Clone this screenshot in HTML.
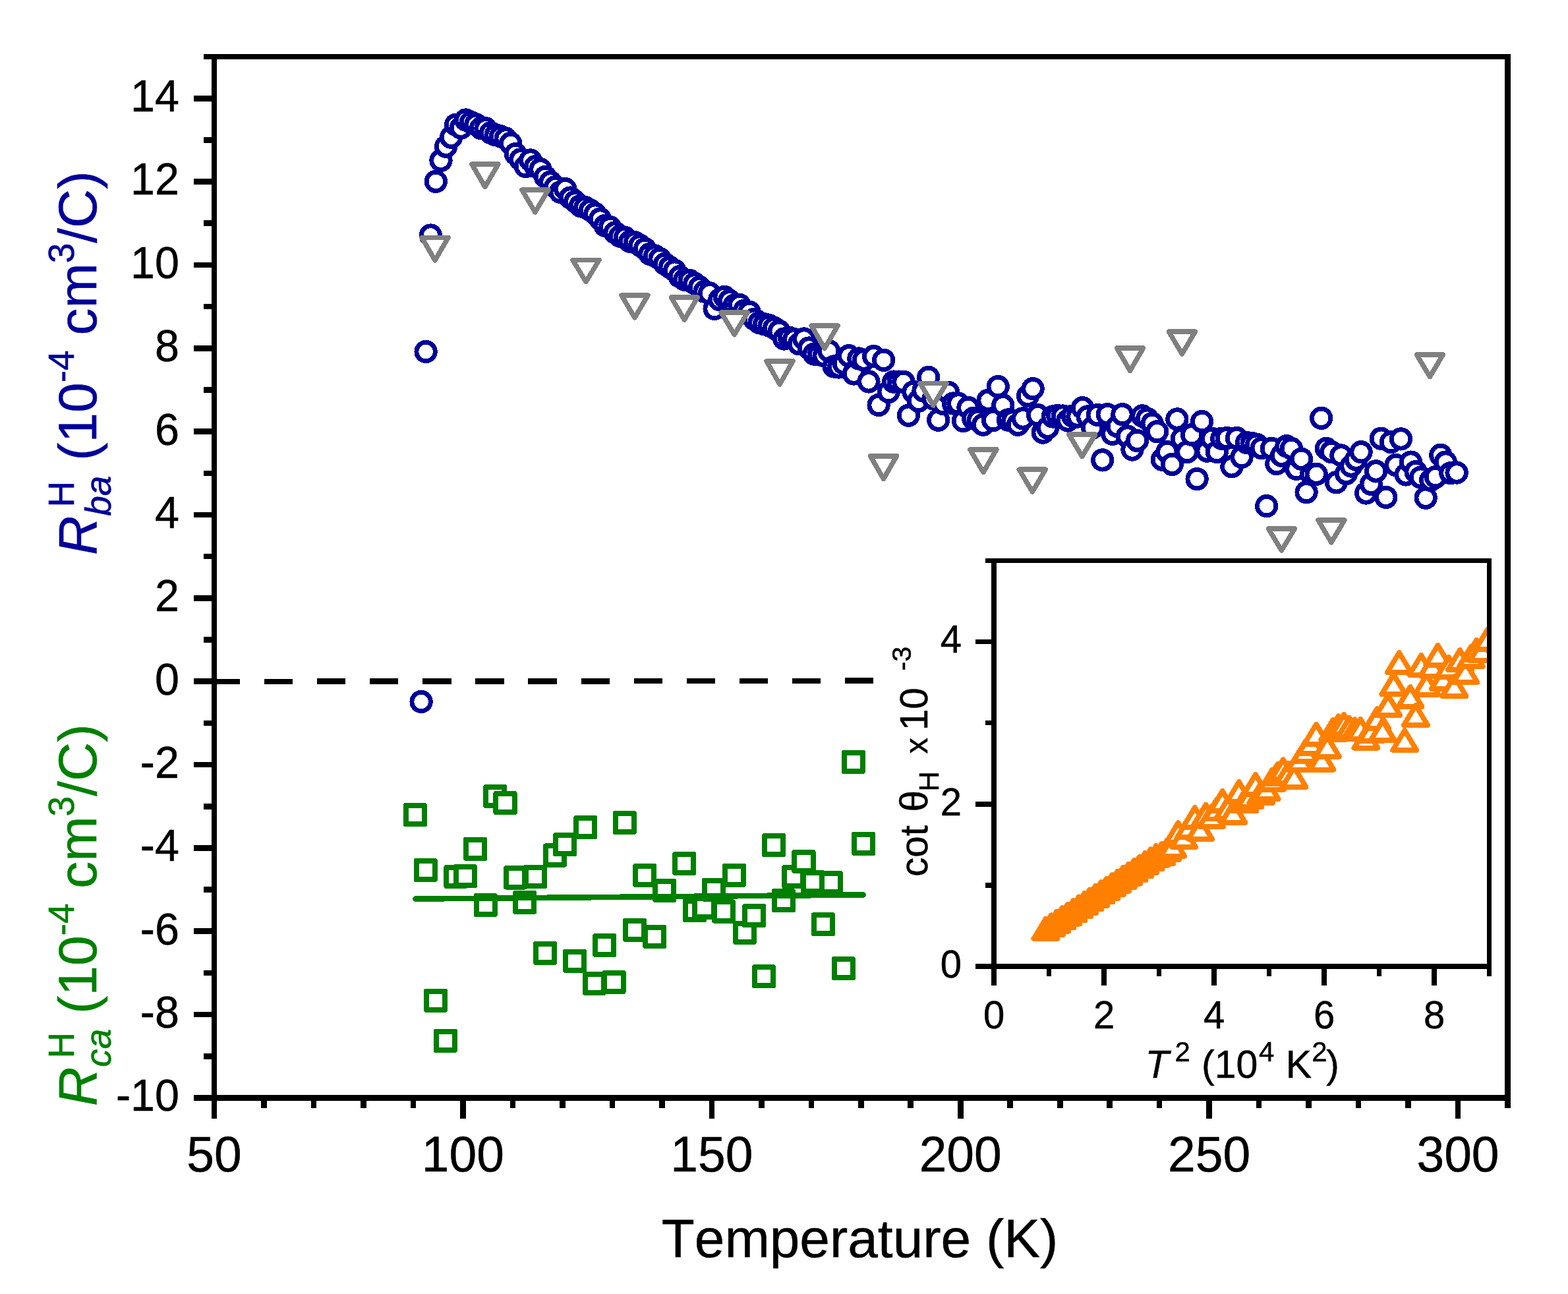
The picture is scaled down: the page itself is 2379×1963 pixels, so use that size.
<!DOCTYPE html>
<html lang="en">
<head>
<meta charset="utf-8">
<title>Hall coefficient vs temperature</title>
<style>
html,body{margin:0;padding:0;background:#fff;}
body{width:2379px;height:1963px;overflow:hidden;}
svg{display:block;}
text{font-family:'Liberation Sans', sans-serif;font-kerning:none;stroke-width:0.5px;paint-order:stroke fill;}
</style>
</head>
<body>
<svg width="2379" height="1963" viewBox="0 0 2379 1963">
<rect x="0" y="0" width="2379" height="1963" fill="#ffffff"/>
<g id="zero-line" shape-rendering="crispEdges">
<line x1="321" y1="1034" x2="1326" y2="1032.7" stroke="#000" stroke-width="8.6" stroke-dasharray="43.2 36.88"/>
</g>
<g id="series-ba" fill="#fff" stroke="#000099" stroke-width="6.9" shape-rendering="crispEdges">
<circle cx="639.1" cy="1064.5" r="14.2"/>
<circle cx="646.1" cy="533.5" r="14.2"/>
<circle cx="653.3" cy="357" r="14.2"/>
<circle cx="661.3" cy="275.3" r="14.2"/>
<circle cx="669" cy="243.3" r="14.2"/>
<circle cx="676.6" cy="222.2" r="14.2"/>
<circle cx="684.5" cy="208.3" r="14.2"/>
<circle cx="691.6" cy="189.2" r="14.2"/>
<circle cx="699.3" cy="194" r="14.2"/>
<circle cx="706.8" cy="182" r="14.2"/>
<circle cx="714.4" cy="185.5" r="14.2"/>
<circle cx="721.9" cy="188.7" r="14.2"/>
<circle cx="729.5" cy="194.4" r="14.2"/>
<circle cx="737" cy="194.9" r="14.2"/>
<circle cx="744.5" cy="201.6" r="14.2"/>
<circle cx="752.1" cy="204.7" r="14.2"/>
<circle cx="759.6" cy="206.8" r="14.2"/>
<circle cx="767.2" cy="210" r="14.2"/>
<circle cx="774.7" cy="217.5" r="14.2"/>
<circle cx="782.3" cy="233.5" r="14.2"/>
<circle cx="789.8" cy="242" r="14.2"/>
<circle cx="797.4" cy="252.5" r="14.2"/>
<circle cx="804.9" cy="243" r="14.2"/>
<circle cx="812.5" cy="252.5" r="14.2"/>
<circle cx="820" cy="256.8" r="14.2"/>
<circle cx="827.5" cy="268.3" r="14.2"/>
<circle cx="835.1" cy="276" r="14.2"/>
<circle cx="842.6" cy="283.7" r="14.2"/>
<circle cx="850.2" cy="291.4" r="14.2"/>
<circle cx="857.7" cy="286.6" r="14.2"/>
<circle cx="865.3" cy="300" r="14.2"/>
<circle cx="872.8" cy="305.8" r="14.2"/>
<circle cx="880.4" cy="312.3" r="14.2"/>
<circle cx="887.9" cy="314.6" r="14.2"/>
<circle cx="895.5" cy="318.8" r="14.2"/>
<circle cx="903" cy="324.2" r="14.2"/>
<circle cx="910.6" cy="332.1" r="14.2"/>
<circle cx="918.1" cy="342.4" r="14.2"/>
<circle cx="925.6" cy="344.5" r="14.2"/>
<circle cx="933.2" cy="352.9" r="14.2"/>
<circle cx="940.7" cy="358.3" r="14.2"/>
<circle cx="948.3" cy="360.5" r="14.2"/>
<circle cx="955.8" cy="366.4" r="14.2"/>
<circle cx="963.4" cy="367.7" r="14.2"/>
<circle cx="970.9" cy="372.1" r="14.2"/>
<circle cx="978.5" cy="377.3" r="14.2"/>
<circle cx="986" cy="385.3" r="14.2"/>
<circle cx="993.6" cy="388" r="14.2"/>
<circle cx="1001.1" cy="392.5" r="14.2"/>
<circle cx="1008.7" cy="400.3" r="14.2"/>
<circle cx="1016.2" cy="405.3" r="14.2"/>
<circle cx="1023.7" cy="410.2" r="14.2"/>
<circle cx="1031.3" cy="419.7" r="14.2"/>
<circle cx="1038.8" cy="424.4" r="14.2"/>
<circle cx="1046.4" cy="425.4" r="14.2"/>
<circle cx="1053.9" cy="430" r="14.2"/>
<circle cx="1061.5" cy="435.6" r="14.2"/>
<circle cx="1069" cy="442.1" r="14.2"/>
<circle cx="1076.6" cy="444.8" r="14.2"/>
<circle cx="1084.1" cy="468.4" r="14.2"/>
<circle cx="1091.7" cy="454.6" r="14.2"/>
<circle cx="1099.2" cy="450.4" r="14.2"/>
<circle cx="1106.8" cy="455.9" r="14.2"/>
<circle cx="1114.3" cy="462.9" r="14.2"/>
<circle cx="1121.8" cy="462.4" r="14.2"/>
<circle cx="1129.4" cy="471.2" r="14.2"/>
<circle cx="1136.9" cy="473.4" r="14.2"/>
<circle cx="1144.5" cy="484.2" r="14.2"/>
<circle cx="1152" cy="489.5" r="14.2"/>
<circle cx="1159.6" cy="491.8" r="14.2"/>
<circle cx="1167.1" cy="493.8" r="14.2"/>
<circle cx="1174.7" cy="497.4" r="14.2"/>
<circle cx="1182.2" cy="502.4" r="14.2"/>
<circle cx="1189.8" cy="514" r="14.2"/>
<circle cx="1197.3" cy="512.1" r="14.2"/>
<circle cx="1204.8" cy="514.5" r="14.2"/>
<circle cx="1212.4" cy="521.8" r="14.2"/>
<circle cx="1219.9" cy="514" r="14.2"/>
<circle cx="1227.5" cy="528" r="14.2"/>
<circle cx="1235" cy="537" r="14.2"/>
<circle cx="1242.6" cy="537.7" r="14.2"/>
<circle cx="1250.1" cy="539.6" r="14.2"/>
<circle cx="1257.7" cy="532.4" r="14.2"/>
<circle cx="1265.2" cy="556" r="14.2"/>
<circle cx="1272.8" cy="557" r="14.2"/>
<circle cx="1280.3" cy="551.5" r="14.2"/>
<circle cx="1287.9" cy="539.8" r="14.2"/>
<circle cx="1295.4" cy="567" r="14.2"/>
<circle cx="1302.9" cy="544" r="14.2"/>
<circle cx="1310.5" cy="546" r="14.2"/>
<circle cx="1318" cy="578.9" r="14.2"/>
<circle cx="1325.6" cy="540.6" r="14.2"/>
<circle cx="1333.1" cy="614.5" r="14.2"/>
<circle cx="1340.7" cy="546.3" r="14.2"/>
<circle cx="1348.2" cy="594.5" r="14.2"/>
<circle cx="1355.8" cy="579.1" r="14.2"/>
<circle cx="1363.3" cy="579.1" r="14.2"/>
<circle cx="1370.9" cy="579.3" r="14.2"/>
<circle cx="1378.4" cy="630.2" r="14.2"/>
<circle cx="1386" cy="594.5" r="14.2"/>
<circle cx="1393.5" cy="608.3" r="14.2"/>
<circle cx="1401" cy="592.8" r="14.2"/>
<circle cx="1408.6" cy="572.4" r="14.2"/>
<circle cx="1416.1" cy="605" r="14.2"/>
<circle cx="1423.7" cy="637.2" r="14.2"/>
<circle cx="1431.2" cy="612.6" r="14.2"/>
<circle cx="1438.8" cy="595.3" r="14.2"/>
<circle cx="1446.3" cy="612" r="14.2"/>
<circle cx="1453.9" cy="612" r="14.2"/>
<circle cx="1461.4" cy="638.5" r="14.2"/>
<circle cx="1469" cy="618.3" r="14.2"/>
<circle cx="1476.5" cy="634.7" r="14.2"/>
<circle cx="1484.1" cy="637.6" r="14.2"/>
<circle cx="1491.6" cy="644.3" r="14.2"/>
<circle cx="1499.1" cy="607.3" r="14.2"/>
<circle cx="1506.7" cy="637.6" r="14.2"/>
<circle cx="1514.2" cy="586.5" r="14.2"/>
<circle cx="1521.8" cy="614.8" r="14.2"/>
<circle cx="1529.3" cy="637" r="14.2"/>
<circle cx="1536.9" cy="638" r="14.2"/>
<circle cx="1544.4" cy="644.3" r="14.2"/>
<circle cx="1552" cy="634.9" r="14.2"/>
<circle cx="1559.5" cy="600.5" r="14.2"/>
<circle cx="1567.1" cy="589.7" r="14.2"/>
<circle cx="1574.6" cy="629.7" r="14.2"/>
<circle cx="1582.2" cy="656.1" r="14.2"/>
<circle cx="1589.7" cy="649" r="14.2"/>
<circle cx="1597.2" cy="632" r="14.2"/>
<circle cx="1604.8" cy="630.5" r="14.2"/>
<circle cx="1612.3" cy="631" r="14.2"/>
<circle cx="1619.9" cy="638" r="14.2"/>
<circle cx="1627.4" cy="631" r="14.2"/>
<circle cx="1635" cy="632" r="14.2"/>
<circle cx="1642.5" cy="618.7" r="14.2"/>
<circle cx="1650.1" cy="632" r="14.2"/>
<circle cx="1657.6" cy="648.9" r="14.2"/>
<circle cx="1665.2" cy="629.5" r="14.2"/>
<circle cx="1672.7" cy="697.9" r="14.2"/>
<circle cx="1680.2" cy="628.7" r="14.2"/>
<circle cx="1687.8" cy="658.3" r="14.2"/>
<circle cx="1695.3" cy="646.7" r="14.2"/>
<circle cx="1702.9" cy="628.7" r="14.2"/>
<circle cx="1710.4" cy="661.9" r="14.2"/>
<circle cx="1718" cy="682" r="14.2"/>
<circle cx="1725.5" cy="668.4" r="14.2"/>
<circle cx="1733.1" cy="630.9" r="14.2"/>
<circle cx="1740.6" cy="635.2" r="14.2"/>
<circle cx="1748.2" cy="642.4" r="14.2"/>
<circle cx="1755.7" cy="654.7" r="14.2"/>
<circle cx="1763.3" cy="697.2" r="14.2"/>
<circle cx="1770.8" cy="685.6" r="14.2"/>
<circle cx="1778.3" cy="704.4" r="14.2"/>
<circle cx="1785.9" cy="635.9" r="14.2"/>
<circle cx="1793.4" cy="665.5" r="14.2"/>
<circle cx="1801" cy="685.6" r="14.2"/>
<circle cx="1808.5" cy="659.6" r="14.2"/>
<circle cx="1816.1" cy="726.6" r="14.2"/>
<circle cx="1823.6" cy="639.5" r="14.2"/>
<circle cx="1831.2" cy="684.1" r="14.2"/>
<circle cx="1838.7" cy="665.4" r="14.2"/>
<circle cx="1846.3" cy="685.5" r="14.2"/>
<circle cx="1853.8" cy="665.3" r="14.2"/>
<circle cx="1861.4" cy="664.6" r="14.2"/>
<circle cx="1868.9" cy="707.8" r="14.2"/>
<circle cx="1876.4" cy="664.6" r="14.2"/>
<circle cx="1884" cy="693.4" r="14.2"/>
<circle cx="1891.5" cy="671.4" r="14.2"/>
<circle cx="1899.1" cy="672.5" r="14.2"/>
<circle cx="1906.6" cy="674.2" r="14.2"/>
<circle cx="1914.2" cy="679.7" r="14.2"/>
<circle cx="1921.7" cy="767.6" r="14.2"/>
<circle cx="1929.3" cy="680.4" r="14.2"/>
<circle cx="1936.8" cy="703.5" r="14.2"/>
<circle cx="1944.4" cy="691.2" r="14.2"/>
<circle cx="1951.9" cy="676.8" r="14.2"/>
<circle cx="1959.4" cy="680.4" r="14.2"/>
<circle cx="1967" cy="711.4" r="14.2"/>
<circle cx="1974.5" cy="696.3" r="14.2"/>
<circle cx="1982.1" cy="746.7" r="14.2"/>
<circle cx="1989.6" cy="719.3" r="14.2"/>
<circle cx="1997.2" cy="719.3" r="14.2"/>
<circle cx="2004.7" cy="634.3" r="14.2"/>
<circle cx="2012.3" cy="680.4" r="14.2"/>
<circle cx="2019.8" cy="685.5" r="14.2"/>
<circle cx="2027.4" cy="731.8" r="14.2"/>
<circle cx="2034.9" cy="691" r="14.2"/>
<circle cx="2042.5" cy="718.5" r="14.2"/>
<circle cx="2050" cy="707" r="14.2"/>
<circle cx="2057.5" cy="697.2" r="14.2"/>
<circle cx="2065.1" cy="685.8" r="14.2"/>
<circle cx="2072.6" cy="748" r="14.2"/>
<circle cx="2080.2" cy="734.4" r="14.2"/>
<circle cx="2087.7" cy="714.9" r="14.2"/>
<circle cx="2095.3" cy="665.2" r="14.2"/>
<circle cx="2102.8" cy="754.4" r="14.2"/>
<circle cx="2110.4" cy="670.6" r="14.2"/>
<circle cx="2117.9" cy="705.5" r="14.2"/>
<circle cx="2125.5" cy="665.9" r="14.2"/>
<circle cx="2133" cy="719.9" r="14.2"/>
<circle cx="2140.6" cy="701.1" r="14.2"/>
<circle cx="2148.1" cy="715.6" r="14.2"/>
<circle cx="2155.6" cy="724.2" r="14.2"/>
<circle cx="2163.2" cy="755.2" r="14.2"/>
<circle cx="2170.7" cy="728.5" r="14.2"/>
<circle cx="2178.3" cy="723.5" r="14.2"/>
<circle cx="2185.8" cy="690.3" r="14.2"/>
<circle cx="2193.4" cy="701.1" r="14.2"/>
<circle cx="2200.9" cy="717.7" r="14.2"/>
<circle cx="2210.1" cy="717" r="14.2"/>
</g>
<g id="series-ref" fill="#fff" stroke="#808080" stroke-width="7.5" stroke-linejoin="round" shape-rendering="crispEdges">
<path d="M640 360.4L680 360.4L660 394.9Z"/>
<path d="M715.9 249.1L755.9 249.1L735.9 283.6Z"/>
<path d="M791.9 288.1L831.9 288.1L811.9 321.9Z"/>
<path d="M869 394.4L909 394.4L889 427.6Z"/>
<path d="M943 448.1L983 448.1L963 481.9Z"/>
<path d="M1018.4 451.1L1058.4 451.1L1038.4 485.2Z"/>
<path d="M1094.2 474.1L1134.2 474.1L1114.2 507.6Z"/>
<path d="M1163 548L1203 548L1183 583Z"/>
<path d="M1231.1 494.1L1271.1 494.1L1251.1 528.6Z"/>
<path d="M1320.5 691.8L1360.5 691.8L1340.5 726.5Z"/>
<path d="M1396 581.5L1436 581.5L1416 615Z"/>
<path d="M1471.9 682L1511.9 682L1491.9 716.6Z"/>
<path d="M1546.3 712.2L1586.3 712.2L1566.3 746.2Z"/>
<path d="M1621.8 659.1L1661.8 659.1L1641.8 692.6Z"/>
<path d="M1694.5 528.1L1734.5 528.1L1714.5 562.5Z"/>
<path d="M1773.4 503.1L1813.4 503.1L1793.4 537Z"/>
<path d="M1924.4 802L1964.4 802L1944.4 835Z"/>
<path d="M1999.9 789.1L2039.9 789.1L2019.9 822.9Z"/>
<path d="M2149.4 538L2189.4 538L2169.4 571.6Z"/>
</g>
<g id="series-ca-fit">
</g>
<g id="series-ca" fill="#fff" stroke="#008000" stroke-width="8" stroke-linejoin="round" shape-rendering="crispEdges">
<rect x="615.8" y="1221.9" width="28.3" height="28.3"/>
<rect x="631.5" y="1305.9" width="28.3" height="28.3"/>
<rect x="646.9" y="1503.5" width="28.3" height="28.3"/>
<rect x="661.8" y="1564.8" width="28.3" height="28.3"/>
<rect x="677.4" y="1315.9" width="28.3" height="28.3"/>
<rect x="691.8" y="1314.9" width="28.3" height="28.3"/>
<rect x="706.9" y="1273.8" width="28.3" height="28.3"/>
<rect x="722.6" y="1358.8" width="28.3" height="28.3"/>
<rect x="737.1" y="1193.8" width="28.3" height="28.3"/>
<rect x="752.4" y="1204" width="28.3" height="28.3"/>
<rect x="768.1" y="1317.2" width="28.3" height="28.3"/>
<rect x="782.1" y="1354.6" width="28.3" height="28.3"/>
<rect x="797.9" y="1315.8" width="28.3" height="28.3"/>
<rect x="812.8" y="1431.6" width="28.3" height="28.3"/>
<rect x="827.8" y="1283.4" width="28.3" height="28.3"/>
<rect x="842.9" y="1267" width="28.3" height="28.3"/>
<rect x="857.9" y="1443.6" width="28.3" height="28.3"/>
<rect x="874" y="1240.9" width="28.3" height="28.3"/>
<rect x="887.6" y="1477.6" width="28.3" height="28.3"/>
<rect x="903" y="1419.9" width="28.3" height="28.3"/>
<rect x="917.4" y="1475.8" width="28.3" height="28.3"/>
<rect x="933.6" y="1233.8" width="28.3" height="28.3"/>
<rect x="948.9" y="1396.8" width="28.3" height="28.3"/>
<rect x="964.1" y="1313.8" width="28.3" height="28.3"/>
<rect x="979.1" y="1406.9" width="28.3" height="28.3"/>
<rect x="994" y="1336.9" width="28.3" height="28.3"/>
<rect x="1024" y="1295.9" width="28.3" height="28.3"/>
<rect x="1039.8" y="1366.9" width="28.3" height="28.3"/>
<rect x="1054.2" y="1363" width="28.3" height="28.3"/>
<rect x="1068.9" y="1335.8" width="28.3" height="28.3"/>
<rect x="1084.1" y="1368.4" width="28.3" height="28.3"/>
<rect x="1099.8" y="1313.5" width="28.3" height="28.3"/>
<rect x="1115.8" y="1400.6" width="28.3" height="28.3"/>
<rect x="1129.9" y="1374.9" width="28.3" height="28.3"/>
<rect x="1144.9" y="1467" width="28.3" height="28.3"/>
<rect x="1159.9" y="1267.9" width="28.3" height="28.3"/>
<rect x="1174.8" y="1351.9" width="28.3" height="28.3"/>
<rect x="1190" y="1316" width="28.3" height="28.3"/>
<rect x="1205.3" y="1292.8" width="28.3" height="28.3"/>
<rect x="1219.3" y="1323.9" width="28.3" height="28.3"/>
<rect x="1234.8" y="1388" width="28.3" height="28.3"/>
<rect x="1246.6" y="1324.8" width="28.3" height="28.3"/>
<rect x="1265.8" y="1454.9" width="28.3" height="28.3"/>
<rect x="1280.8" y="1141.8" width="28.3" height="28.3"/>
<rect x="1295.9" y="1265.8" width="28.3" height="28.3"/>
</g>
<line id="series-ca-line" x1="630.5" y1="1363.6" x2="1309.5" y2="1357.5" stroke="#008000" stroke-width="8.6" stroke-linecap="round" shape-rendering="crispEdges"/>
<g id="main-axes" stroke="#000" stroke-width="8.6" fill="none" stroke-linecap="butt" shape-rendering="crispEdges">
<line x1="325" y1="81.7" x2="325" y2="1697"/>
<line x1="2287.5" y1="81.7" x2="2287.5" y2="1681"/>
<line x1="309" y1="86" x2="2291.8" y2="86"/>
<line x1="294" y1="1665.4" x2="2291.8" y2="1665.4"/>
<line x1="309" y1="1602.2" x2="325" y2="1602.2"/>
<line x1="294" y1="1539" x2="325" y2="1539"/>
<line x1="309" y1="1475.9" x2="325" y2="1475.9"/>
<line x1="294" y1="1412.7" x2="325" y2="1412.7"/>
<line x1="309" y1="1349.5" x2="325" y2="1349.5"/>
<line x1="294" y1="1286.3" x2="325" y2="1286.3"/>
<line x1="309" y1="1223.2" x2="325" y2="1223.2"/>
<line x1="294" y1="1160" x2="325" y2="1160"/>
<line x1="309" y1="1096.8" x2="325" y2="1096.8"/>
<line x1="294" y1="1033.6" x2="325" y2="1033.6"/>
<line x1="309" y1="970.5" x2="325" y2="970.5"/>
<line x1="294" y1="907.3" x2="325" y2="907.3"/>
<line x1="309" y1="844.1" x2="325" y2="844.1"/>
<line x1="294" y1="780.9" x2="325" y2="780.9"/>
<line x1="309" y1="717.8" x2="325" y2="717.8"/>
<line x1="294" y1="654.6" x2="325" y2="654.6"/>
<line x1="309" y1="591.4" x2="325" y2="591.4"/>
<line x1="294" y1="528.2" x2="325" y2="528.2"/>
<line x1="309" y1="465.1" x2="325" y2="465.1"/>
<line x1="294" y1="401.9" x2="325" y2="401.9"/>
<line x1="309" y1="338.7" x2="325" y2="338.7"/>
<line x1="294" y1="275.5" x2="325" y2="275.5"/>
<line x1="309" y1="212.4" x2="325" y2="212.4"/>
<line x1="294" y1="149.2" x2="325" y2="149.2"/>
<line x1="400.5" y1="1665.4" x2="400.5" y2="1681"/>
<line x1="476" y1="1665.4" x2="476" y2="1681"/>
<line x1="551.4" y1="1665.4" x2="551.4" y2="1681"/>
<line x1="626.9" y1="1665.4" x2="626.9" y2="1681"/>
<line x1="702.4" y1="1665.4" x2="702.4" y2="1697"/>
<line x1="777.9" y1="1665.4" x2="777.9" y2="1681"/>
<line x1="853.4" y1="1665.4" x2="853.4" y2="1681"/>
<line x1="928.8" y1="1665.4" x2="928.8" y2="1681"/>
<line x1="1004.3" y1="1665.4" x2="1004.3" y2="1681"/>
<line x1="1079.8" y1="1665.4" x2="1079.8" y2="1697"/>
<line x1="1155.3" y1="1665.4" x2="1155.3" y2="1681"/>
<line x1="1230.8" y1="1665.4" x2="1230.8" y2="1681"/>
<line x1="1306.2" y1="1665.4" x2="1306.2" y2="1681"/>
<line x1="1381.7" y1="1665.4" x2="1381.7" y2="1681"/>
<line x1="1457.2" y1="1665.4" x2="1457.2" y2="1697"/>
<line x1="1532.7" y1="1665.4" x2="1532.7" y2="1681"/>
<line x1="1608.2" y1="1665.4" x2="1608.2" y2="1681"/>
<line x1="1683.7" y1="1665.4" x2="1683.7" y2="1681"/>
<line x1="1759.1" y1="1665.4" x2="1759.1" y2="1681"/>
<line x1="1834.6" y1="1665.4" x2="1834.6" y2="1697"/>
<line x1="1910.1" y1="1665.4" x2="1910.1" y2="1681"/>
<line x1="1985.6" y1="1665.4" x2="1985.6" y2="1681"/>
<line x1="2061.1" y1="1665.4" x2="2061.1" y2="1681"/>
<line x1="2136.5" y1="1665.4" x2="2136.5" y2="1681"/>
<line x1="2212" y1="1665.4" x2="2212" y2="1697"/>
</g>
<g id="main-ylabels" font-size="66.5" text-anchor="end" fill="#000" stroke="#000">
<text transform="translate(272 1685.3) scale(1 1.022)">-10</text>
<text transform="translate(272 1558.9) scale(1 1.022)">-8</text>
<text transform="translate(272 1432.6) scale(1 1.022)">-6</text>
<text transform="translate(272 1306.2) scale(1 1.022)">-4</text>
<text transform="translate(272 1179.9) scale(1 1.022)">-2</text>
<text transform="translate(272 1053.5) scale(1 1.022)">0</text>
<text transform="translate(272 927.2) scale(1 1.022)">2</text>
<text transform="translate(272 800.8) scale(1 1.022)">4</text>
<text transform="translate(272 674.5) scale(1 1.022)">6</text>
<text transform="translate(272 548.1) scale(1 1.022)">8</text>
<text transform="translate(272 421.8) scale(1 1.022)">10</text>
<text transform="translate(272 295.4) scale(1 1.022)">12</text>
<text transform="translate(272 169.1) scale(1 1.022)">14</text>
</g>
<g id="main-xlabels" font-size="75" text-anchor="middle" fill="#000" stroke="#000">
<text transform="translate(325 1776.5) scale(1 1.022)">50</text>
<text transform="translate(702.4 1776.5) scale(1 1.022)">100</text>
<text transform="translate(1079.8 1776.5) scale(1 1.022)">150</text>
<text transform="translate(1457.2 1776.5) scale(1 1.022)">200</text>
<text transform="translate(1834.6 1776.5) scale(1 1.022)">250</text>
<text transform="translate(2212 1776.5) scale(1 1.022)">300</text>
</g>
<text id="main-xtitle" x="1304.5" y="1906.5" font-size="82" text-anchor="middle" fill="#000" stroke="#000">Temperature (K)</text>
<g id="ytitle-ba" transform="translate(146 842) rotate(-90)" fill="#000099" stroke="#000099" font-size="82">
<text x="0" y="0" font-style="italic">R</text>
<text x="59.2" y="22" font-size="55" font-style="italic">ba</text>
<text x="72.5" y="-34" font-size="55">H</text>
<text x="120.4" y="0" xml:space="preserve"> (10<tspan font-size="55" dy="-34">-4</tspan><tspan dy="34"> cm</tspan><tspan font-size="55" dy="-34">3</tspan><tspan dy="34">/C)</tspan></text>
</g>
<g id="ytitle-ca" transform="translate(146 1678) rotate(-90)" fill="#008000" stroke="#008000" font-size="82">
<text x="0" y="0" font-style="italic">R</text>
<text x="59.2" y="22" font-size="55" font-style="italic">ca</text>
<text x="72.5" y="-34" font-size="55">H</text>
<text x="117.3" y="0" xml:space="preserve"> (10<tspan font-size="55" dy="-34">-4</tspan><tspan dy="34"> cm</tspan><tspan font-size="55" dy="-34">3</tspan><tspan dy="34">/C)</tspan></text>
</g>
<g id="inset">
<clipPath id="insetclip"><rect x="1508" y="850.4" width="751.5" height="615.6"/></clipPath>
<g id="inset-series" fill="#fff" stroke="#ff8000" stroke-width="7.8" stroke-linejoin="round" clip-path="url(#insetclip)" shape-rendering="crispEdges">
<path d="M1568.5 1423.8L1604.5 1423.8L1586.5 1393.8Z"/>
<path d="M1576.9 1418.3L1612.9 1418.3L1594.9 1388.3Z"/>
<path d="M1585.3 1412.7L1621.3 1412.7L1603.3 1382.7Z"/>
<path d="M1593.6 1407.2L1629.6 1407.2L1611.6 1377.2Z"/>
<path d="M1602 1401.6L1638 1401.6L1620 1371.6Z"/>
<path d="M1610.4 1396.1L1646.4 1396.1L1628.4 1366.1Z"/>
<path d="M1618.8 1390.5L1654.8 1390.5L1636.8 1360.5Z"/>
<path d="M1627.2 1385L1663.2 1385L1645.2 1355Z"/>
<path d="M1635.5 1379.4L1671.5 1379.4L1653.5 1349.4Z"/>
<path d="M1643.9 1373.9L1679.9 1373.9L1661.9 1343.9Z"/>
<path d="M1652.3 1368.3L1688.3 1368.3L1670.3 1338.3Z"/>
<path d="M1660.7 1362.8L1696.7 1362.8L1678.7 1332.8Z"/>
<path d="M1669.1 1357.2L1705.1 1357.2L1687.1 1327.2Z"/>
<path d="M1677.4 1351.7L1713.4 1351.7L1695.4 1321.7Z"/>
<path d="M1685.8 1346.1L1721.8 1346.1L1703.8 1316.1Z"/>
<path d="M1694.2 1340.6L1730.2 1340.6L1712.2 1310.6Z"/>
<path d="M1702.6 1335L1738.6 1335L1720.6 1305Z"/>
<path d="M1711 1329.5L1747 1329.5L1729 1299.5Z"/>
<path d="M1719.3 1323.9L1755.3 1323.9L1737.3 1293.9Z"/>
<path d="M1727.7 1318.4L1763.7 1318.4L1745.7 1288.4Z"/>
<path d="M1736.1 1312.8L1772.1 1312.8L1754.1 1282.8Z"/>
<path d="M1744.5 1309.9L1780.5 1309.9L1762.5 1279.9Z"/>
<path d="M1752.9 1304.3L1788.9 1304.3L1770.9 1274.3Z"/>
<path d="M1761.2 1298.8L1797.2 1298.8L1779.2 1268.8Z"/>
<path d="M1769.6 1278.1L1805.6 1278.1L1787.6 1248.1Z"/>
<path d="M1778 1284.9L1814 1284.9L1796 1254.9Z"/>
<path d="M1786.4 1269.7L1822.4 1269.7L1804.4 1239.7Z"/>
<path d="M1794.8 1255L1830.8 1255L1812.8 1225Z"/>
<path d="M1803.1 1272.9L1839.1 1272.9L1821.1 1242.9Z"/>
<path d="M1811.5 1250.7L1847.5 1250.7L1829.5 1220.7Z"/>
<path d="M1819.9 1254.1L1855.9 1254.1L1837.9 1224.1Z"/>
<path d="M1828.3 1242.4L1864.3 1242.4L1846.3 1212.4Z"/>
<path d="M1836.7 1230L1872.7 1230L1854.7 1200Z"/>
<path d="M1845 1241.7L1881 1241.7L1863 1211.7Z"/>
<path d="M1853.4 1247.8L1889.4 1247.8L1871.4 1217.8Z"/>
<path d="M1861.8 1216.1L1897.8 1216.1L1879.8 1186.1Z"/>
<path d="M1870.2 1230.5L1906.2 1230.5L1888.2 1200.5Z"/>
<path d="M1878.6 1223.8L1914.6 1223.8L1896.6 1193.8Z"/>
<path d="M1886.9 1205L1922.9 1205L1904.9 1175Z"/>
<path d="M1895.3 1218L1931.3 1218L1913.3 1188Z"/>
<path d="M1903.7 1212.3L1939.7 1212.3L1921.7 1182.3Z"/>
<path d="M1912.1 1197.8L1948.1 1197.8L1930.1 1167.8Z"/>
<path d="M1920.5 1189.1L1956.5 1189.1L1938.5 1159.1Z"/>
<path d="M1928.8 1182.2L1964.8 1182.2L1946.8 1152.2Z"/>
<path d="M1937.2 1187.7L1973.2 1187.7L1955.2 1157.7Z"/>
<path d="M1945.6 1193.9L1981.6 1193.9L1963.6 1163.9Z"/>
<path d="M1954 1168.3L1990 1168.3L1972 1138.3Z"/>
<path d="M1962.4 1155.1L1998.4 1155.1L1980.4 1125.1Z"/>
<path d="M1970.7 1142.7L2006.7 1142.7L1988.7 1112.7Z"/>
<path d="M1979.1 1128.6L2015.1 1128.6L1997.1 1098.6Z"/>
<path d="M1987.5 1167.7L2023.5 1167.7L2005.5 1137.7Z"/>
<path d="M1995.9 1147.7L2031.9 1147.7L2013.9 1117.7Z"/>
<path d="M2004.3 1122.2L2040.3 1122.2L2022.3 1092.2Z"/>
<path d="M2012.6 1116.3L2048.6 1116.3L2030.6 1086.3Z"/>
<path d="M2021 1113.8L2057 1113.8L2039 1083.8Z"/>
<path d="M2029.4 1118.8L2065.4 1118.8L2047.4 1088.8Z"/>
<path d="M2037.8 1121.4L2073.8 1121.4L2055.8 1091.4Z"/>
<path d="M2046.2 1121L2082.2 1121L2064.2 1091Z"/>
<path d="M2054.5 1134.7L2090.5 1134.7L2072.5 1104.7Z"/>
<path d="M2062.9 1123.8L2098.9 1123.8L2080.9 1093.8Z"/>
<path d="M2071.3 1105.3L2107.3 1105.3L2089.3 1075.3Z"/>
<path d="M2079.7 1123L2115.7 1123L2097.7 1093Z"/>
<path d="M2088.1 1085L2124.1 1085L2106.1 1055Z"/>
<path d="M2096.4 1053.2L2132.4 1053.2L2114.4 1023.2Z"/>
<path d="M2104.8 1020L2140.8 1020L2122.8 990Z"/>
<path d="M2113.2 1138L2149.2 1138L2131.2 1108Z"/>
<path d="M2121.6 1071.9L2157.6 1071.9L2139.6 1041.9Z"/>
<path d="M2130 1100L2166 1100L2148 1070Z"/>
<path d="M2138.3 1023.8L2174.3 1023.8L2156.3 993.8Z"/>
<path d="M2146.7 1053.6L2182.7 1053.6L2164.7 1023.6Z"/>
<path d="M2155.1 1025.6L2191.1 1025.6L2173.1 995.6Z"/>
<path d="M2163.5 1008.9L2199.5 1008.9L2181.5 978.9Z"/>
<path d="M2171.9 1045L2207.9 1045L2189.9 1015Z"/>
<path d="M2180.2 1027L2216.2 1027L2198.2 997Z"/>
<path d="M2188.6 1056.1L2224.6 1056.1L2206.6 1026.1Z"/>
<path d="M2197 1016.1L2233 1016.1L2215 986.1Z"/>
<path d="M2205.4 1034.9L2241.4 1034.9L2223.4 1004.9Z"/>
<path d="M2213.8 1011L2249.8 1011L2231.8 981Z"/>
<path d="M2222.1 1000.8L2258.1 1000.8L2240.1 970.8Z"/>
<path d="M2230.5 1002.2L2266.5 1002.2L2248.5 972.2Z"/>
<path d="M2238.9 985L2274.9 985L2256.9 955Z"/>
</g>
<g id="inset-axes" stroke="#000" fill="none" shape-rendering="crispEdges">
<line x1="1508" y1="847" x2="1508" y2="1495" stroke-width="8"/>
<line x1="1480" y1="1466" x2="2262.9" y2="1466" stroke-width="8"/>
<line x1="1494.5" y1="850.4" x2="2262.9" y2="850.4" stroke-width="6.8"/>
<line x1="2259.5" y1="847" x2="2259.5" y2="1481" stroke-width="6.8"/>
<line x1="1494.5" y1="1342.9" x2="1508" y2="1342.9" stroke-width="7.5"/>
<line x1="1480" y1="1219.8" x2="1508" y2="1219.8" stroke-width="7.5"/>
<line x1="1494.5" y1="1096.6" x2="1508" y2="1096.6" stroke-width="7.5"/>
<line x1="1480" y1="973.5" x2="1508" y2="973.5" stroke-width="7.5"/>
<line x1="1591.5" y1="1466" x2="1591.5" y2="1481" stroke-width="7.5"/>
<line x1="1675" y1="1466" x2="1675" y2="1495" stroke-width="7.5"/>
<line x1="1758.5" y1="1466" x2="1758.5" y2="1481" stroke-width="7.5"/>
<line x1="1842" y1="1466" x2="1842" y2="1495" stroke-width="7.5"/>
<line x1="1925.5" y1="1466" x2="1925.5" y2="1481" stroke-width="7.5"/>
<line x1="2009" y1="1466" x2="2009" y2="1495" stroke-width="7.5"/>
<line x1="2092.5" y1="1466" x2="2092.5" y2="1481" stroke-width="7.5"/>
<line x1="2176" y1="1466" x2="2176" y2="1495" stroke-width="7.5"/>
</g>
<g id="inset-ylabels" font-size="58" text-anchor="end" fill="#000" stroke="#000">
<text transform="translate(1459 1482.7) scale(1 1.022)">0</text>
<text transform="translate(1459 1236.5) scale(1 1.022)">2</text>
<text transform="translate(1459 990.2) scale(1 1.022)">4</text>
</g>
<g id="inset-xlabels" font-size="58" text-anchor="middle" fill="#000" stroke="#000">
<text transform="translate(1508 1560.3) scale(1 1.022)">0</text>
<text transform="translate(1675 1560.3) scale(1 1.022)">2</text>
<text transform="translate(1842 1560.3) scale(1 1.022)">4</text>
<text transform="translate(2009 1560.3) scale(1 1.022)">6</text>
<text transform="translate(2176 1560.3) scale(1 1.022)">8</text>
</g>
<g id="inset-xtitle" font-size="59" fill="#000" stroke="#000">
<text x="1737.6" y="1634.6" font-style="italic">T</text>
<text x="1782.6" y="1609.8" font-size="42">2</text>
<text x="1823.1" y="1634.6">(10</text>
<text x="1910" y="1609.8" font-size="42">4</text>
<text x="1950.7" y="1634.6">K</text>
<text x="1990.3" y="1609.8" font-size="42">2</text>
<text x="2012.2" y="1634.6">)</text>
</g>
<g id="inset-ytitle" transform="translate(1407.3 1330) rotate(-90)" fill="#000" stroke="#000" font-size="58.5">
<text x="0" y="0">cot</text>
<text x="98.6" y="0">θ</text>
<text x="129.5" y="16.5" font-size="42">H</text>
<text x="186.8" y="0" font-size="48">x</text>
<text x="221.7" y="0">10</text>
<text x="312.5" y="-25" font-size="41.5">-3</text>
</g>
</g>
</svg>
</body>
</html>
